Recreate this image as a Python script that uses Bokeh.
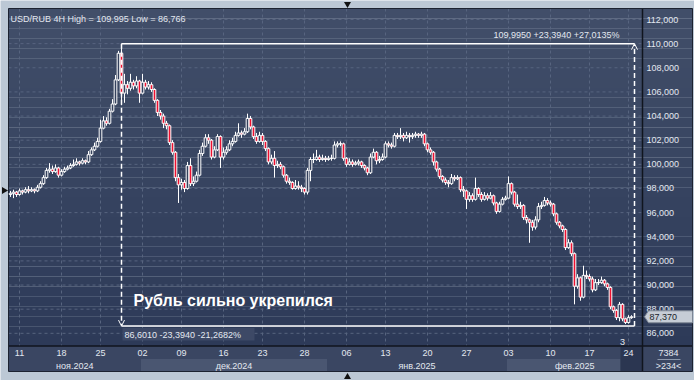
import numpy as np
from bokeh.plotting import figure
from bokeh.models import Range1d, Arrow, OpenHead
from bokeh.core.properties import value
from bokeh.embed import file_html
from bokeh.resources import INLINE

# ---------------- data (USD/RUB, 4H candles) ----------------
first_open = 97.5
closes = [
    97.6, 97.7, 97.5, 97.8, 97.7, 97.9, 97.8, 97.9, 97.8, 98.1,
    98.4, 98.9, 99.5, 99.6, 99.4, 99.7, 99.1, 99.4, 99.6, 99.7,
    99.9, 100.0, 100.2, 100.1, 100.3, 100.2, 100.8, 101.2, 101.5, 101.9,
    103.0, 103.6, 103.4, 104.4, 105.0, 107.0, 109.2, 105.9, 106.6, 106.3,
    106.8, 106.5, 106.9, 105.9, 106.8, 106.4, 106.6, 106.2, 105.3, 104.3,
    104.0, 103.4, 103.2, 101.8, 101.0, 98.9, 98.3, 98.5, 98.0, 99.9,
    98.4, 98.6, 99.1, 100.9, 101.5, 102.2, 102.0, 100.6, 101.2, 102.3,
    100.6, 101.0, 101.2, 101.7, 101.9, 102.4, 102.6, 102.5, 102.7, 103.8,
    103.1, 102.3, 101.9, 102.4, 101.9, 101.3, 100.2, 100.5, 99.9, 100.0,
    99.8, 99.1, 98.6, 98.5, 98.0, 98.2, 98.1, 98.0, 97.7, 99.5,
    100.4, 100.4, 100.6, 100.4, 100.5, 100.4, 100.5, 100.5, 101.6, 101.7,
    101.7, 100.5, 100.0, 100.2, 100.0, 100.1, 100.2, 99.9, 99.7, 99.3,
    100.6, 101.0, 100.3, 100.4, 100.6, 101.7, 101.6, 101.5, 102.4, 102.3,
    102.4, 102.2, 102.4, 102.3, 102.4, 102.5, 102.4, 102.5, 101.7, 101.2,
    101.0, 100.2, 99.6, 99.0, 98.7, 98.5, 98.4, 98.9, 98.8, 98.9,
    97.9, 97.8, 97.1, 97.4, 97.1, 98.0, 97.5, 97.1, 97.4, 97.2,
    97.4, 96.8, 96.1, 96.7, 97.1, 97.2, 98.4, 97.7, 96.7, 96.5,
    96.6, 95.6, 95.4, 95.2, 94.8, 95.4, 96.5, 96.6, 97.0, 96.8,
    96.7, 95.9, 95.2, 94.9, 94.6, 93.1, 93.5, 92.6, 89.9, 90.6,
    89.0, 90.8, 90.7, 90.5, 89.6, 90.2, 90.2, 90.4, 90.1, 89.8,
    88.2, 87.9, 87.3, 88.4, 87.2, 86.9, 87.3, 87.37,
]
highs = [
    97.8, 97.9, 97.8, 98.0, 97.9, 98.1, 98.2, 98.1, 98.0, 98.3,
    98.6, 99.1, 99.7, 100.1, 99.9, 100.0, 99.8, 99.6, 99.8, 99.9,
    100.1, 100.4, 100.5, 100.3, 100.5, 100.4, 101.1, 101.4, 101.8, 102.2,
    103.7, 104.0, 103.9, 104.6, 105.4, 107.4, 109.4, 109.995, 107.5, 106.9,
    107.5, 107.0, 107.3, 107.0, 107.5, 107.0, 106.9, 106.8, 106.3, 105.4,
    104.5, 104.2, 103.6, 103.3, 102.0, 101.1, 99.2, 98.8, 98.7, 100.2,
    100.5, 99.0, 99.4, 101.2, 101.8, 102.5, 102.5, 102.1, 101.5, 102.5,
    102.4, 101.4, 101.5, 102.0, 102.2, 102.7, 103.4, 102.8, 103.0, 104.2,
    104.0, 103.2, 102.6, 102.7, 102.6, 102.0, 101.4, 100.8, 101.1, 100.3,
    100.2, 99.9, 99.2, 98.9, 98.6, 98.7, 98.6, 98.3, 98.1, 99.7,
    100.6, 100.9, 101.2, 100.8, 100.8, 100.7, 100.7, 100.8, 101.9, 101.9,
    101.9, 101.8, 100.6, 100.5, 100.4, 100.3, 100.4, 100.3, 100.0, 99.8,
    100.9, 101.3, 101.1, 100.7, 100.9, 101.9, 101.9, 101.8, 102.6, 102.6,
    103.0, 102.6, 102.7, 102.6, 102.6, 102.7, 102.6, 102.7, 102.6, 101.8,
    101.4, 101.1, 100.3, 99.7, 99.1, 98.9, 98.7, 99.2, 99.1, 99.1,
    99.0, 98.2, 97.9, 97.7, 97.6, 98.9, 98.1, 97.7, 97.7, 97.6,
    97.7, 97.5, 96.9, 96.9, 97.3, 97.4, 99.0, 98.5, 97.8, 97.5,
    96.9, 96.7, 95.8, 95.5, 95.4, 95.7, 96.8, 96.9, 97.3, 97.2,
    97.0, 96.8, 96.0, 95.3, 95.0, 94.7, 93.8, 93.7, 92.7, 90.9,
    90.7, 91.6, 91.2, 90.9, 90.7, 90.5, 90.5, 90.7, 90.5, 90.2,
    89.9, 88.3, 88.0, 88.6, 88.5, 87.3, 87.5, 87.5,
]
lows = [
    97.3, 97.2, 97.3, 97.4, 97.5, 97.6, 97.6, 97.7, 97.6, 97.7,
    98.0, 98.3, 98.8, 99.3, 99.2, 99.3, 98.9, 99.0, 99.3, 99.5,
    99.6, 99.8, 99.9, 99.9, 100.0, 100.0, 100.1, 100.7, 101.1, 101.4,
    101.8, 102.9, 103.2, 103.3, 104.3, 104.9, 106.9, 104.9, 105.1, 105.8,
    106.1, 106.2, 106.3, 105.1, 105.8, 106.2, 106.2, 106.0, 105.1, 104.0,
    103.7, 103.0, 102.9, 101.6, 100.8, 98.6, 96.8, 97.9, 97.7, 97.9,
    98.2, 98.2, 98.5, 99.0, 100.7, 101.4, 101.7, 100.4, 100.5, 101.1,
    99.7, 100.4, 100.8, 101.1, 101.5, 101.8, 102.3, 102.2, 102.4, 102.6,
    102.9, 102.1, 101.7, 101.8, 101.6, 101.1, 100.0, 100.0, 98.9, 99.7,
    99.6, 98.9, 98.4, 98.3, 97.9, 97.9, 97.9, 97.7, 97.5, 97.5,
    98.6, 100.1, 100.3, 100.2, 100.3, 100.2, 100.3, 100.3, 100.4, 101.4,
    101.5, 100.3, 99.8, 99.9, 99.8, 99.9, 99.9, 99.7, 99.5, 99.1,
    99.2, 100.5, 100.0, 100.1, 100.3, 100.5, 101.4, 101.3, 101.4, 102.1,
    102.1, 101.9, 102.1, 101.8, 102.1, 102.2, 102.2, 102.2, 101.5, 101.0,
    100.8, 99.9, 99.4, 98.8, 98.5, 98.3, 98.1, 98.3, 98.6, 98.7,
    97.7, 97.3, 96.3, 96.9, 96.9, 97.0, 97.3, 96.9, 97.0, 97.0,
    97.1, 96.6, 95.9, 96.0, 96.6, 97.0, 97.1, 97.5, 96.5, 96.3,
    96.3, 95.4, 95.1, 93.5, 94.5, 94.6, 95.2, 96.3, 96.5, 96.6,
    96.5, 95.7, 95.0, 94.7, 94.4, 92.9, 93.0, 92.4, 88.4, 89.7,
    88.7, 88.9, 90.5, 90.3, 89.4, 89.5, 90.0, 90.1, 89.9, 89.6,
    88.0, 87.7, 87.1, 87.0, 87.0, 86.766, 86.8, 87.2,
]

price_ticks = [86, 88, 90, 92, 94, 96, 98, 100, 102, 104, 106, 108, 110, 112]
price_tick_labels = ["86,000", "88,000", "90,000", "92,000", "94,000", "96,000", "98,000",
                     "100,000", "102,000", "104,000", "106,000", "108,000", "110,000", "112,000"]
day_tick_bars = [3, 17, 30, 44, 57, 71, 84, 98, 112, 125, 139, 152, 166, 180, 193, 206]
day_tick_labels = ["11", "18", "25", "02", "09", "16", "23", "28",
                   "06", "13", "20", "27", "03", "10", "17", "24"]
month_start_bars = [44, 106, 166]
month_labels = ["ноя.2024", "дек.2024", "янв.2025", "фев.2025"]

title_text = "USD/RUB 4H High = 109,995 Low = 86,766"
measure_high = 109.995
measure_low = 86.601
measure_top_text = "109,9950  +23,3940  +27,0135%"
measure_bottom_text = "86,6010  -23,3940  -21,2682%"
headline = "Рубль сильно укрепился"
last_price_label = "87,370"
bars_to_close_label = "3"
volume_label = "7384"
spread_label = ">234<"

# ---------------- layout (pixels) ----------------
FONT = "Liberation Sans"
W, H = 694, 380
FL, FR, FT, FB = 8, 692, 8, 371          # dark panel box
PLOT_R, PLOT_B = 642, 345.5              # price-axis / time-axis separators
BAR_PX0, BAR_PX = 10, 3                  # pixel of first bar, pixels per bar
TOP_TICK_PX, PX_PER_RUB = 19, 12.07      # pixel of top tick, pixels per rouble
top_tick = price_ticks[-1]

# the frame covers the whole canvas
X0 = (0 - BAR_PX0) / BAR_PX
X1 = (W - BAR_PX0) / BAR_PX
Y1 = top_tick + (TOP_TICK_PX - 0) / PX_PER_RUB
Y0 = top_tick - (H - TOP_TICK_PX) / PX_PER_RUB


def X(px):
    return float(X0 + px / W * (X1 - X0))


def Y(py):
    return Y1 - (np.asarray(py, dtype=float)) / H * (Y1 - Y0)


def Yf(py):
    return float(Y(py))


p = figure(width=W, height=H, x_range=Range1d(X0, X1), y_range=Range1d(Y0, Y1),
           x_axis_type=None, y_axis_type=None, toolbar_location=None,
           output_backend="svg", title=None,
           min_border_left=0, min_border_right=0, min_border_top=0, min_border_bottom=0,
           background_fill_color="#bcc8d5", border_fill_color="#bcc8d5",
           outline_line_color=None)

# background gradient of the dark panel
n_bands = 34
edges = np.linspace(FT, PLOT_B, n_bands + 1)
c_top = np.array([65, 78, 105])
c_bot = np.array([45, 58, 88])
cols = []
for k in range(n_bands):
    t = k / (n_bands - 1)
    r, g, b = (c_top + (c_bot - c_top) * t).round().astype(int)
    cols.append("#%02x%02x%02x" % (r, g, b))
p.quad(left=X(FL), right=X(FR), top=Y(edges[:-1]), bottom=Y(edges[1:]),
       fill_color=cols, line_color=None)

# time-axis band
p.quad(left=X(FL), right=X(FR), top=Yf(PLOT_B), bottom=Yf(FB),
       fill_color="#3a4662", line_color=None)
band_edges = [X(FL)] + [s - 0.5 for s in month_start_bars] + [X(PLOT_R)]
p.quad(left=[band_edges[1], band_edges[3]], right=[band_edges[2], X(620)],
       top=Yf(358.5), bottom=Yf(FB), fill_color="#4a5671", line_color=None)
p.quad(left=X(620), right=X(PLOT_R), top=Yf(PLOT_B), bottom=Yf(FB),
       fill_color="#2b3651", line_color=None)

# grid
grid_kw = dict(line_color="#57647f", line_width=1, line_dash="3 3")
p.segment(x0=X(FL), x1=X(PLOT_R - 1), y0=price_ticks, y1=price_ticks, **grid_kw)
p.segment(x0=day_tick_bars, x1=day_tick_bars, y0=Yf(FT), y1=Yf(PLOT_B), **grid_kw)

# separators and panel outline
sep_kw = dict(line_color="#10151e", line_width=1.5)
p.segment(x0=X(PLOT_R), x1=X(PLOT_R), y0=Yf(FT), y1=Yf(FB), **sep_kw)
p.segment(x0=X(FL), x1=X(FR), y0=Yf(PLOT_B), y1=Yf(PLOT_B), **sep_kw)
p.quad(left=X(FL), right=X(FR), top=Yf(FT), bottom=Yf(FB), fill_color=None,
       line_color="#1c2230", line_width=1)

# candles
idx = np.arange(len(closes))
c_arr = np.array(closes)
o_arr = np.array([first_open] + closes[:-1])
body_top = np.maximum(o_arr, c_arr)
body_bot = np.minimum(o_arr, c_arr)
up = c_arr >= o_arr
p.segment(x0=idx, x1=idx, y0=body_top, y1=np.array(highs), line_color="white", line_width=1)
p.segment(x0=idx, x1=idx, y0=np.array(lows), y1=body_bot, line_color="white", line_width=1)
fills = ["#34415d" if u else "#ee1030" for u in up]
p.vbar(x=idx, width=0.88, top=body_top, bottom=body_bot, fill_color=fills,
       line_color="white", line_width=1)

# measuring tool
i_start = int(np.argmax(highs))
i_end = len(closes)
p.segment(x0=[i_start, i_start], x1=[i_end, i_end], y0=[measure_high, measure_low],
          y1=[measure_high, measure_low], line_color="white", line_width=1.5)
p.add_layout(Arrow(x_start=i_start, y_start=measure_high, x_end=i_start, y_end=measure_low,
                   line_color="white", line_width=1.5, line_dash="5 3",
                   end=OpenHead(size=6, line_color="white", line_width=1)))
p.add_layout(Arrow(x_start=i_end, y_start=measure_low, x_end=i_end, y_end=measure_high,
                   line_color="white", line_width=1.5, line_dash="5 3",
                   end=OpenHead(size=6, line_color="white", line_width=1)))
p.quad(left=X(122), right=X(254), top=Yf(327.5), bottom=Yf(340),
       fill_color="#3d4966", line_color=None)

txt = dict(text_font=value(FONT), text_font_size=value("9px"), text_color="#e3e8f0")

# price axis labels
p.text(x=X(646), y=price_ticks, text=price_tick_labels, text_align="left",
       text_baseline="middle", **txt)
# time axis labels
p.text(x=day_tick_bars, y=Yf(352.5), text=day_tick_labels, text_align="center",
       text_baseline="middle", **txt)
month_centers = [(band_edges[k] + band_edges[k + 1]) / 2 for k in range(len(month_labels))]
p.text(x=month_centers, y=Yf(365), text=month_labels, text_align="center",
       text_baseline="middle", **txt)

# measure texts
p.text(x=X(624), y=Yf(34.5), text=[measure_top_text], text_align="right",
       text_baseline="middle", **txt)
p.text(x=X(124), y=Yf(334), text=[measure_bottom_text], text_align="left",
       text_baseline="middle", **txt)

# headline
p.text(x=X(133), y=Yf(299.5), text=[headline], text_align="left",
       text_baseline="alphabetic", text_font=value(FONT), text_font_size=value("16px"),
       text_font_style="bold", text_color="white")

# title
p.text(x=X(10), y=Yf(18.5), text=[title_text], text_align="left",
       text_baseline="alphabetic", text_font=value(FONT), text_font_size=value("9px"),
       text_color="#e2e7ef")

# small labels
p.text(x=X(622), y=Yf(341), text=[bars_to_close_label], text_align="center",
       text_baseline="middle", **txt)
p.text(x=X(668), y=Yf(352.5), text=[volume_label], text_align="center",
       text_baseline="middle", **txt)
p.segment(x0=X(657), x1=X(680), y0=Yf(359), y1=Yf(359),
          line_color="#8d99ad", line_width=1)
p.text(x=X(668), y=Yf(365.5), text=[spread_label], text_align="center",
       text_baseline="middle", **txt)

# last price tag
yc = closes[-1]
dy = 6 / PX_PER_RUB
p.patch(x=[X(644), X(648), X(FR), X(FR), X(648)],
        y=[yc, yc + dy, yc + dy, yc - dy, yc - dy],
        fill_color="#c6cdd6", line_color="#7d8694", line_width=1)
p.text(x=X(649), y=yc, text=[last_price_label], text_align="left",
       text_baseline="middle", text_font=value(FONT), text_font_size=value("9px"),
       text_color="#1a1f2b")

# frame markers on the light border
p.scatter(x=[X(347)], y=[Yf(3.5)], marker="inverted_triangle", size=7,
          fill_color="#111111", line_color=None)
p.scatter(x=[X(347)], y=[Yf(376.5)], marker="triangle", size=7,
          fill_color="#111111", line_color=None)
p.scatter(x=[X(3.5)], y=[Yf(190)], marker="triangle", angle=-np.pi / 2, size=7,
          fill_color="#111111", line_color=None)

open("out.html", "w").write(file_html(p, INLINE))
